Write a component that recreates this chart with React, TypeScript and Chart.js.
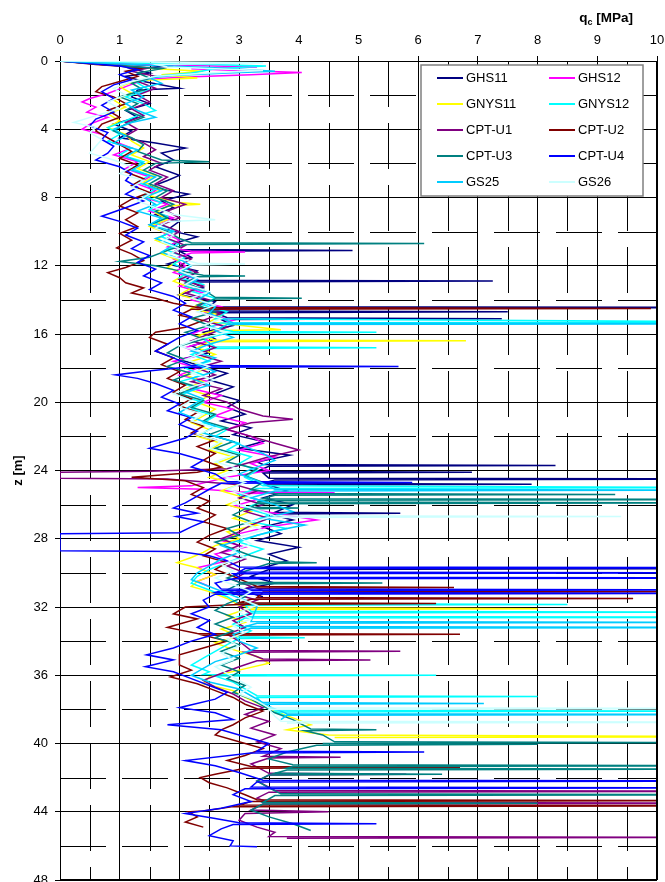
import React, { useEffect, useRef } from 'react';
import { Chart, registerables } from 'chart.js';

Chart.register(...registerables);

// ---- axis ticks ----
const X_TICKS = [0, 1, 2, 3, 4, 5, 6, 7, 8, 9, 10];
const Y_TICKS = [0, 4, 8, 12, 16, 20, 24, 28, 32, 36, 40, 44, 48];
const MINOR_X = [0.5, 1.5, 2.5, 3.5, 4.5, 5.5, 6.5, 7.5, 8.5, 9.5];
const MINOR_Y = [2, 6, 10, 14, 18, 22, 26, 30, 34, 38, 42, 46];

const SERIES_NAMES = ['GHS11', 'GHS12', 'GNYS11', 'GNYS12', 'CPT-U1', 'CPT-U2', 'CPT-U3', 'CPT-U4', 'GS25', 'GS26'];
const SERIES_COLORS = ['#000080', '#FF00FF', '#FFFF00', '#00FFFF', '#800080', '#800000', '#008080', '#0000FF', '#00CCFF', '#CCFFFF'];

// ---- series: [z (m), qc (MPa)] ----
const GHS11 = [[0,0],[0.15,0.6],[0.3,1.9],[0.45,1.2],[0.7,1.5],[0.9,1.1],[1.2,1.4],[1.6,2.0],[1.7,1.3],[2.1,1.2],[2.5,1.5],[2.9,1.1],[3.3,1.3],[3.7,0.9],[4.1,1.2],[4.5,1.0],[4.8,1.6],[5.1,2.1],[5.4,1.7],[5.8,1.9],[6.2,1.6],[6.7,2.0],[7.0,1.8],[7.4,1.5],[7.8,2.15],[8.2,1.7],[8.6,1.9],[9.0,1.6],[9.4,2.0],[9.9,1.8],[10.3,2.3],[10.7,1.9],[11.05,2.0],[11.1,4.9],[11.15,2.0],[11.5,2.2],[11.9,1.8],[12.3,2.3],[12.85,2.1],[12.9,7.25],[12.95,2.2],[13.3,2.4],[13.7,2.0],[14.1,2.6],[14.4,2.5],[14.45,12],[14.5,2.6],[14.65,2.4],[14.7,7.5],[14.75,2.6],[15.05,2.8],[15.1,7.4],[15.15,2.7],[15.5,2.9],[15.9,2.4],[16.3,2.6],[16.7,2.2],[17.1,2.5],[17.5,2.0],[17.9,2.4],[18.3,2.8],[18.7,2.5],[19.1,2.9],[19.5,2.6],[19.9,3.0],[20.3,2.8],[20.7,3.1],[21.1,2.7],[21.5,3.2],[21.9,2.9],[22.3,3.4],[22.7,3.0],[23.1,3.85],[23.5,3.3],[23.65,3.4],[23.7,8.3],[23.75,3.5],[24.05,3.3],[24.1,6.9],[24.15,3.4],[24.45,3.5],[24.5,12],[24.55,3.6],[24.75,3.4],[24.8,7.9],[24.85,3.5],[25.2,3.8],[25.6,3.4],[26.0,3.9],[26.45,3.6],[26.5,5.7],[26.55,3.5],[26.9,3.9],[27.3,3.4],[27.7,3.7],[28.1,3.3],[28.5,4.0],[28.9,3.5],[29.3,3.8],[29.7,3.4],[29.75,12],[29.8,3.5],[30.2,3.2],[30.6,3.6],[31.0,3.0],[31.4,3.4]];

const GHS12 = [[0,0],[0.15,0.8],[0.35,3.3],[0.45,2.2],[0.55,3.0],[0.68,4.05],[0.8,3.2],[0.95,2.0],[1.1,1.4],[1.5,1.1],[1.9,0.8],[2.2,0.5],[2.4,0.37],[2.7,0.6],[3.0,0.45],[3.3,0.8],[3.7,0.5],[4.0,0.37],[4.3,0.7],[4.7,0.9],[5.1,1.2],[5.5,0.9],[5.9,1.3],[6.3,1.1],[6.8,1.5],[7.2,1.3],[7.6,1.6],[8.0,1.4],[8.4,1.8],[8.8,1.5],[9.2,1.9],[9.6,1.6],[10.0,1.7],[10.5,2.0],[10.9,1.8],[11.15,2.2],[11.2,3.1],[11.25,2.2],[11.6,1.9],[12.0,2.1],[12.4,1.9],[12.8,2.3],[13.2,2.0],[13.6,2.4],[14.0,2.2],[14.4,2.7],[14.8,2.4],[15.2,2.9],[15.6,2.5],[16.0,2.2],[16.4,2.5],[16.8,2.1],[17.2,2.4],[17.6,1.9],[18.0,2.3],[18.4,2.0],[18.8,2.5],[19.2,2.2],[19.6,2.7],[20.0,2.4],[20.4,2.9],[20.8,2.6],[21.2,3.1],[21.6,2.8],[22.0,3.2],[22.4,3.4],[22.8,3.0],[23.2,3.6],[23.6,3.2],[24.0,3.5],[24.4,2.8],[24.9,2.2],[25.0,1.3],[25.1,2.4],[25.25,3.0],[25.3,4.6],[25.35,3.0],[25.7,3.3],[26.1,2.9],[26.5,3.6],[26.9,4.3],[27.3,3.5],[27.7,3.0],[28.1,2.7],[28.5,3.1],[28.9,2.6],[29.3,2.8],[29.7,2.3],[30.1,2.6],[30.5,2.3],[30.8,2.5]];

const GNYS11 = [[0,0],[0.25,0.9],[0.45,1.6],[0.6,2.4],[0.8,1.7],[1.0,2.3],[1.15,1.3],[1.5,1.0],[1.9,1.2],[2.3,0.9],[2.7,1.1],[3.1,0.8],[3.5,1.0],[3.9,0.8],[4.3,1.1],[4.7,1.2],[5.1,1.4],[5.5,1.2],[5.9,1.5],[6.3,1.3],[6.7,1.6],[7.1,1.4],[7.5,1.7],[7.9,1.5],[8.3,2.0],[8.4,2.35],[8.5,1.8],[8.9,1.6],[9.3,1.8],[9.7,1.5],[10.1,1.8],[10.5,1.6],[10.9,1.9],[11.3,1.7],[11.7,2.0],[12.1,1.8],[12.5,2.1],[12.9,1.9],[13.3,2.2],[13.7,2.0],[14.1,2.4],[14.5,2.2],[14.9,2.7],[15.3,2.5],[15.75,3.7],[15.8,2.6],[16.1,2.3],[16.35,2.6],[16.4,6.8],[16.45,2.5],[16.8,2.3],[17.2,2.6],[17.6,2.2],[18.0,2.5],[18.4,2.1],[18.8,2.4],[19.2,2.1],[19.6,2.5],[20.0,2.3],[20.4,2.6],[20.8,2.4],[21.2,2.2],[21.6,2.5],[22.0,2.3],[22.4,2.7],[22.8,2.5],[23.2,2.9],[23.6,2.6],[24.0,2.8],[24.4,2.5],[24.8,3.0],[25.2,2.7],[25.6,3.1],[26.0,2.8],[26.4,3.2],[26.8,2.9],[27.2,3.3],[27.6,2.8],[28.0,3.0],[28.4,2.6],[28.8,2.4],[29.1,2.2],[29.4,1.96],[29.7,2.3],[30.1,2.6],[30.5,2.3],[30.8,2.2],[31.1,2.5],[31.5,2.8],[31.9,3.0],[32.05,3.2],[32.1,8.0],[32.15,3.1],[32.5,2.8],[32.9,3.1],[33.3,2.7],[33.7,3.0],[34.1,2.6],[34.5,2.9],[34.9,3.3],[35.3,3.5],[35.7,3.0],[36.1,2.5],[36.5,2.4],[36.9,2.9],[37.3,3.1],[37.7,3.35],[38.1,3.6],[38.5,3.9],[38.9,4.2],[39.2,3.8],[39.5,4.5],[39.6,12],[39.65,4.6]];

const GNYS12 = [[0,0],[0.1,1.0],[0.2,2.5],[0.3,3.45],[0.45,2.6],[0.7,2.2],[0.9,1.6],[1.3,1.3],[1.7,1.5],[2.1,1.1],[2.5,1.4],[2.9,1.6],[3.2,1.3],[3.5,1.1],[3.9,0.8],[4.3,1.0],[4.7,0.8],[5.1,1.2],[5.5,1.0],[5.9,1.4],[6.3,1.2],[6.7,1.5],[7.1,1.3],[7.5,1.6],[7.9,1.4],[8.3,1.7],[8.7,1.5],[9.1,1.8],[9.5,1.6],[9.9,1.9],[10.3,1.7],[10.7,2.0],[11.1,1.8],[11.5,2.1],[11.9,1.9],[12.3,2.2],[12.7,2.0],[13.1,2.4],[13.5,2.2],[13.9,2.6],[14.3,2.4],[14.7,2.8],[15.1,2.6],[15.3,12],[15.35,2.7],[15.6,2.5],[15.85,2.9],[15.9,5.3],[15.95,2.8],[16.3,2.4],[16.75,2.6],[16.8,5.3],[16.85,2.5],[17.2,2.2],[17.6,2.5],[18.0,2.1],[18.4,2.4],[18.8,2.0],[19.2,2.3],[19.6,2.0],[20.0,2.4],[20.4,2.2],[20.8,2.6],[21.2,2.4],[21.6,2.8],[22.0,2.6],[22.4,3.0],[22.8,2.8],[23.2,3.2],[23.6,3.0],[24.0,3.3],[24.4,3.1],[24.9,3.4],[25.0,12],[25.05,3.3],[25.4,3.0],[25.8,3.4],[26.2,3.1],[26.6,3.5],[27.0,3.2],[27.4,3.8],[27.8,3.3],[28.2,3.0],[28.6,3.4],[29.0,3.1],[29.4,2.8],[29.8,2.5],[30.2,2.3],[30.6,2.2],[31.0,2.5],[31.4,2.8],[31.8,3.0],[31.85,8.5],[31.9,3.1],[32.25,3.2],[32.3,12],[32.35,3.2],[32.55,3.0],[32.6,12],[32.65,3.1],[33.0,2.9],[33.4,3.2],[33.75,3.0],[33.8,4.1],[33.85,3.0],[34.2,2.8],[34.6,2.6],[35.0,2.4],[35.4,2.2],[35.8,2.5],[35.95,2.4],[36.0,6.3],[36.05,2.6],[36.4,2.9],[36.8,3.1],[37.2,3.3],[37.25,8.0],[37.3,3.3],[37.7,3.4],[38.05,3.6],[38.1,12],[38.15,3.6],[38.4,3.8]];

const CPT_U1 = [[0,0],[0.2,0.7],[0.4,1.5],[0.6,1.2],[0.9,1.6],[1.2,1.3],[1.6,1.6],[2.0,1.3],[2.4,1.5],[2.8,1.2],[3.2,1.4],[3.6,1.1],[4.0,1.3],[4.4,1.1],[4.8,1.4],[5.2,1.6],[5.6,1.4],[6.0,1.7],[6.4,1.5],[6.8,1.8],[7.2,1.6],[7.6,1.9],[8.0,1.7],[8.4,2.1],[8.8,1.8],[9.2,2.0],[9.6,1.7],[10.0,2.0],[10.4,1.8],[10.8,2.1],[11.2,1.9],[11.6,2.2],[12.0,2.0],[12.4,2.3],[12.8,2.0],[13.2,2.4],[13.6,2.1],[14.0,2.5],[14.4,2.3],[14.8,2.7],[15.2,2.4],[15.6,2.8],[16.0,2.5],[16.4,2.2],[16.8,2.6],[17.2,2.3],[17.6,2.7],[18.0,2.3],[18.4,2.6],[18.8,2.2],[19.2,2.7],[19.6,2.4],[20.0,2.8],[20.4,3.0],[20.8,3.4],[21.0,3.9],[21.2,3.2],[21.6,2.8],[22.0,3.2],[22.4,3.6],[22.8,4.0],[23.2,3.5],[23.6,3.1],[23.9,2.8],[24.05,1.5],[24.1,0],[24.45,0],[24.5,1.8],[24.8,2.9],[25.2,3.3],[25.6,3.0],[26.0,3.4],[26.4,3.1],[26.8,3.5],[27.2,3.2],[27.6,3.0],[28.0,2.7],[28.4,3.0],[28.8,2.7],[29.2,3.1],[29.6,2.8],[30.0,3.1],[30.4,2.9],[30.8,3.2],[31.2,2.9],[31.6,3.3],[32.0,3.0],[32.4,3.2],[32.8,2.9],[33.2,3.1],[33.6,2.8],[34.0,3.0],[34.55,3.2],[34.6,5.7],[34.65,3.1],[35.05,3.4],[35.1,5.2],[35.15,3.3],[35.5,3.0],[35.9,2.7],[36.3,2.4],[36.7,2.6],[37.1,2.9],[37.5,3.1],[37.9,3.4],[38.3,3.1],[38.7,3.5],[39.1,3.2],[39.5,3.6],[39.9,3.3],[40.3,3.7],[40.75,3.4],[40.8,4.7],[40.85,3.5],[41.2,3.2],[41.75,3.5],[41.8,5.8],[41.85,3.5],[42.2,3.3],[42.75,3.6],[42.8,12],[42.85,3.5],[43.2,3.3],[43.45,3.5],[43.5,12],[43.55,3.4],[43.9,3.2],[44.0,4.5],[44.1,3.1],[44.5,3.0],[44.9,3.3],[45.2,3.6],[45.45,3.5],[45.5,12],[45.55,3.8]];

const CPT_U2 = [[0,0],[0.2,0.6],[0.4,1.4],[0.6,1.1],[0.9,1.3],[1.2,1.0],[1.5,0.7],[1.8,0.6],[2.1,0.9],[2.5,1.1],[2.9,0.8],[3.3,1.0],[3.7,0.7],[4.1,0.6],[4.5,0.8],[4.9,1.0],[5.3,1.2],[5.7,1.0],[6.1,1.3],[6.5,1.1],[6.9,1.4],[7.3,1.2],[7.7,1.5],[8.1,1.2],[8.5,1.0],[8.9,1.3],[9.3,1.1],[9.7,1.3],[10.1,1.0],[10.5,1.2],[10.95,0.95],[11.3,1.2],[11.7,1.4],[12.1,1.1],[12.4,0.8],[12.7,1.0],[13.0,1.1],[13.3,1.4],[13.6,1.2],[13.9,1.6],[14.2,1.9],[14.45,2.3],[14.5,9.9],[14.55,2.2],[14.9,2.0],[15.2,2.4],[15.6,2.1],[15.9,1.6],[16.2,1.5],[16.6,1.8],[17.0,1.6],[17.4,1.9],[17.8,1.7],[18.2,2.0],[18.6,1.8],[19.0,2.1],[19.4,1.9],[19.8,2.2],[20.2,2.0],[20.6,2.3],[21.0,2.1],[21.4,2.4],[21.8,2.2],[22.2,2.6],[22.6,2.3],[23.0,2.6],[23.4,2.4],[23.8,2.7],[24.1,2.3],[24.4,1.2],[24.6,2.1],[25.0,2.4],[25.4,2.2],[25.8,2.5],[26.2,2.3],[26.6,2.6],[27.0,2.4],[27.4,2.8],[27.8,2.5],[28.2,2.3],[28.6,2.6],[29.0,2.4],[29.4,2.8],[29.8,2.6],[30.2,2.9],[30.5,3.1],[30.8,3.3],[30.85,6.6],[30.9,3.3],[31.05,3.4],[31.1,12],[31.15,3.4],[31.45,3.3],[31.5,9.6],[31.55,3.2],[31.75,3.0],[31.8,6.3],[31.85,3.0],[32.0,2.1],[32.4,1.9],[32.7,2.3],[33.2,1.8],[33.55,2.3],[33.6,6.7],[33.65,2.4],[34.0,2.8],[34.4,2.4],[34.8,2.0],[35.4,2.0],[35.7,2.2],[36.1,1.85],[36.5,2.3],[36.9,2.6],[37.3,2.9],[37.7,3.1],[38.1,3.4],[38.5,3.1],[38.9,2.9],[39.2,2.7],[39.5,2.6],[39.9,3.0],[40.3,3.4],[40.7,3.1],[41.0,2.8],[41.35,3.2],[41.4,6.7],[41.45,3.1],[41.8,2.6],[42.0,2.35],[42.3,2.5],[42.6,2.8],[43.0,3.1],[43.3,3.3],[43.35,12],[43.4,3.2],[43.6,3.0],[43.65,12],[43.7,2.9],[43.95,2.4],[44.0,2.15],[44.3,2.3],[44.6,2.1],[44.9,2.4]];

const CPT_U3 = [[0,0],[0.25,0.9],[0.45,1.7],[0.7,1.3],[1.0,1.5],[1.3,1.2],[1.7,1.4],[2.1,1.0],[2.5,1.3],[2.9,1.1],[3.3,1.4],[3.7,1.1],[4.1,0.9],[4.5,1.2],[4.9,1.4],[5.3,1.3],[5.8,1.7],[5.9,2.5],[6.0,1.6],[6.4,1.4],[6.8,1.7],[7.2,1.5],[7.6,1.8],[8.0,1.6],[8.4,1.9],[8.8,1.6],[9.2,1.8],[9.6,1.5],[10.0,1.8],[10.4,2.0],[10.65,2.2],[10.7,6.1],[10.75,2.1],[11.1,1.8],[11.5,1.5],[11.75,1.0],[12.0,1.6],[12.3,2.0],[12.55,2.4],[12.6,3.1],[12.65,2.3],[13.0,2.1],[13.4,2.4],[13.85,2.6],[13.9,4.05],[13.95,2.6],[14.3,2.3],[14.7,2.6],[15.1,2.2],[15.5,2.5],[15.9,2.1],[16.3,2.4],[16.7,2.0],[17.1,1.8],[17.5,2.1],[17.9,1.8],[18.3,2.2],[18.7,1.9],[19.1,2.3],[19.5,2.0],[19.9,2.4],[20.3,2.2],[20.7,2.6],[21.1,2.4],[21.5,2.8],[21.9,2.5],[22.3,2.9],[22.7,2.6],[23.1,3.0],[23.5,2.8],[23.9,3.3],[24.3,3.1],[24.7,3.4],[25.1,3.2],[25.35,3.6],[25.4,9.3],[25.45,3.6],[25.65,3.4],[25.7,12],[25.75,3.5],[25.85,3.3],[25.9,12],[25.95,3.3],[26.15,3.2],[26.2,4.0],[26.25,3.1],[26.6,2.9],[27.0,3.2],[27.4,2.8],[27.8,3.0],[28.2,2.6],[28.6,2.9],[29.0,3.2],[29.35,3.6],[29.4,4.3],[29.45,3.5],[29.9,3.1],[30.3,2.8],[30.55,3.0],[30.6,5.4],[30.65,3.0],[31.0,2.8],[31.4,3.1],[31.8,2.8],[32.2,2.6],[32.6,2.9],[33.0,2.6],[33.4,2.9],[33.8,2.6],[34.2,3.0],[34.6,2.7],[35.0,3.0],[35.4,2.7],[35.8,3.0],[36.2,2.8],[36.6,3.1],[37.0,2.9],[37.4,3.2],[37.8,3.4],[38.2,3.6],[38.6,3.9],[39.15,4.2],[39.2,5.3],[39.25,4.1],[39.5,4.4],[39.9,4.6],[39.95,12],[40.0,4.4],[40.05,8.0],[40.1,4.3],[40.5,3.8],[40.9,3.5],[41.25,3.9],[41.3,12],[41.35,3.9],[41.45,3.8],[41.5,12],[41.55,3.8],[41.75,3.6],[41.8,6.4],[41.85,3.5],[42.2,3.3],[42.6,3.5],[42.95,3.7],[43.0,12],[43.05,3.6],[43.45,3.4],[43.5,8.0],[43.55,3.4],[43.9,3.2],[44.3,3.5],[44.7,3.9],[45.1,4.2]];

const CPT_U4 = [[0,0],[0.15,0.5],[0.3,1.0],[0.5,1.3],[0.8,1.0],[1.1,1.2],[1.4,0.9],[1.8,0.7],[2.2,0.9],[2.6,0.7],[3.0,0.9],[3.4,0.6],[3.8,0.5],[4.2,0.8],[4.6,0.7],[5.0,0.9],[5.4,0.8],[5.8,0.6],[6.2,1.0],[6.6,1.2],[7.0,1.1],[7.4,1.3],[7.8,1.1],[8.2,1.4],[8.6,1.1],[9.1,0.7],[9.4,1.0],[9.8,1.3],[10.2,1.1],[10.6,1.4],[11.0,1.2],[11.4,1.5],[11.8,1.3],[12.2,1.6],[12.6,1.4],[13.0,1.7],[13.4,1.5],[13.8,1.9],[14.2,2.1],[14.6,1.9],[15.0,2.2],[15.4,2.0],[15.8,2.3],[16.2,2.0],[16.6,1.8],[17.0,1.6],[17.4,1.9],[17.85,2.2],[17.9,5.67],[17.95,2.1],[18.2,1.4],[18.4,0.93],[18.6,1.3],[18.9,1.6],[19.3,1.9],[19.7,1.7],[20.1,2.0],[20.5,1.8],[20.9,2.2],[21.3,2.0],[21.7,2.3],[22.1,2.1],[22.7,1.5],[23.0,2.0],[23.4,2.4],[23.8,2.2],[24.2,2.6],[24.65,2.8],[24.7,5.9],[24.75,2.7],[25.1,2.5],[25.5,2.3],[25.9,2.1],[26.2,1.9],[26.5,2.3],[26.7,1.95],[27.0,2.4],[27.3,2.2],[27.65,2.0],[27.7,0],[28.7,0],[28.75,2.0],[29.0,2.5],[29.3,2.8],[29.65,3.0],[29.7,12],[29.75,3.1],[29.95,3.0],[30.0,12],[30.05,2.9],[30.25,3.0],[30.3,12],[30.35,2.9],[30.6,2.6],[30.95,2.7],[31.0,12],[31.05,2.7],[31.15,2.6],[31.2,12],[31.25,2.6],[31.6,2.4],[32.0,2.5],[32.4,2.2],[32.8,2.5],[33.2,2.3],[33.6,2.6],[34.0,2.2],[34.4,1.9],[34.8,1.45],[35.1,1.9],[35.5,1.43],[35.8,1.9],[36.2,2.2],[36.6,2.5],[37.0,2.8],[37.4,2.6],[37.9,2.0],[38.2,2.6],[38.6,2.9],[38.9,1.8],[39.2,2.7],[39.6,3.1],[40.0,3.5],[40.45,3.3],[40.5,6.1],[40.55,3.2],[41.0,2.1],[41.3,2.6],[41.7,3.0],[42.15,3.4],[42.2,12],[42.25,3.3],[42.55,3.2],[42.6,12],[42.65,3.1],[43.0,2.9],[43.4,3.2],[43.8,2.7],[44.1,2.1],[44.4,2.6],[44.65,3.0],[44.7,5.3],[44.75,2.9],[45.0,2.7],[45.4,2.5],[45.7,2.9],[46.0,2.85],[46.05,3.3]];

const GS25 = [[0,0],[0.2,1.2],[0.4,2.6],[0.6,3.6],[0.7,2.8],[0.85,1.9],[1.0,1.5],[1.3,1.7],[1.7,1.2],[2.1,1.4],[2.5,1.1],[2.9,1.3],[3.3,1.6],[3.6,1.2],[4.0,0.9],[4.4,1.1],[4.8,0.9],[5.2,1.3],[5.6,1.1],[6.0,1.4],[6.4,1.2],[6.8,1.6],[7.2,1.4],[7.6,1.7],[8.0,1.4],[8.4,1.6],[8.8,1.3],[9.2,1.7],[9.6,1.5],[10.0,1.9],[10.4,1.6],[10.8,1.9],[11.2,1.7],[11.6,2.0],[12.0,2.2],[12.4,2.0],[12.8,2.3],[13.2,2.1],[13.6,2.5],[14.0,2.3],[14.4,2.6],[14.8,2.5],[15.35,2.9],[15.4,12],[15.45,2.8],[15.8,2.6],[16.2,2.9],[16.6,2.5],[17.0,2.2],[17.4,2.6],[17.8,2.3],[18.2,2.6],[18.6,2.2],[19.0,2.5],[19.4,2.1],[19.8,2.4],[20.2,2.2],[20.6,2.0],[21.0,2.3],[21.4,2.6],[21.8,2.4],[22.2,2.8],[22.6,3.1],[23.0,3.4],[23.4,3.6],[23.8,3.3],[24.2,3.0],[24.6,3.3],[25.1,3.6],[25.15,12],[25.2,3.6],[25.6,3.2],[26.0,3.6],[26.4,3.9],[26.8,3.4],[27.2,4.1],[27.6,3.5],[28.0,3.1],[28.4,2.7],[28.8,3.0],[29.2,2.7],[29.6,2.5],[30.0,2.3],[30.4,2.2],[30.8,2.5],[31.2,2.8],[31.6,3.1],[32.0,3.3],[32.85,3.2],[32.9,12],[32.95,3.3],[33.15,3.1],[33.2,12],[33.25,3.2],[33.6,2.9],[34.0,3.0],[34.4,3.3],[34.8,3.0],[35.2,2.6],[35.6,2.4],[36.0,2.2],[36.4,2.5],[36.8,3.0],[37.2,3.2],[37.6,3.4],[37.65,7.1],[37.7,3.4],[38.1,3.7],[38.25,3.8],[38.3,12],[38.35,3.8],[38.6,3.7]];

const GS26 = [[0,0],[0.05,1.5],[0.1,3.4],[0.2,1.6],[0.35,1.8],[0.55,3.4],[0.7,2.5],[0.9,1.6],[1.2,1.2],[1.6,0.9],[2.0,1.1],[2.4,0.8],[2.8,1.0],[3.2,0.6],[3.6,0.23],[3.9,0.6],[4.2,0.5],[4.6,0.7],[5.0,0.6],[5.4,0.5],[5.8,0.9],[6.2,1.2],[6.6,1.0],[7.0,1.4],[7.4,1.2],[7.8,1.5],[8.2,1.3],[8.6,1.6],[9.0,1.9],[9.3,2.6],[9.4,1.8],[9.8,1.6],[10.2,1.9],[10.6,1.7],[11.0,2.0],[11.4,1.8],[11.85,2.3],[11.9,3.1],[11.95,2.2],[12.3,2.0],[12.7,2.3],[13.1,2.1],[13.5,2.5],[13.9,2.2],[14.3,2.6],[14.7,2.3],[15.1,2.7],[15.5,2.4],[15.9,2.8],[16.3,2.3],[16.7,2.0],[17.1,2.4],[17.5,2.1],[17.9,2.5],[18.3,2.2],[18.7,2.6],[19.1,2.2],[19.5,1.9],[19.9,2.2],[20.3,2.0],[20.7,2.4],[21.1,2.2],[21.5,2.6],[21.9,2.3],[22.3,2.7],[22.7,2.5],[23.1,2.9],[23.5,2.6],[23.9,3.0],[24.3,2.7],[24.7,3.1],[25.1,2.8],[25.5,3.2],[25.9,2.9],[26.3,3.3],[26.65,3.6],[26.7,9.4],[26.75,3.5],[27.1,3.1],[27.5,3.4],[27.9,3.0],[28.3,3.2],[28.7,2.9],[29.1,3.1],[29.5,2.7],[29.9,2.9],[30.3,2.6],[30.7,2.9],[31.1,3.2],[31.5,3.0],[31.9,3.3],[32.3,3.0],[32.7,3.2],[33.1,2.9],[33.5,3.1],[33.9,2.8],[34.3,3.0],[34.7,2.7],[35.1,2.9],[35.5,2.6],[35.9,2.8],[36.3,3.0],[36.7,3.2],[37.1,3.0],[37.5,3.3],[37.9,3.5],[37.95,12],[38.0,3.5],[38.4,3.6],[38.7,3.7],[38.75,12],[38.8,3.8]];

const SERIES_DATA = [GHS11, GHS12, GNYS11, GNYS12, CPT_U1, CPT_U2, CPT_U3, CPT_U4, GS25, GS26];

const FONT = "'Liberation Sans', Arial, Helvetica, sans-serif";

const minorGridPlugin = {
  id: 'minorGrid',
  beforeDatasetsDraw(chart: any) {
    const { ctx, chartArea: a, scales } = chart;
    ctx.save();
    ctx.strokeStyle = '#000';
    ctx.lineWidth = 1;
    ctx.setLineDash([46, 16]);
    for (const q of MINOR_X) {
      const px = Math.round(scales.x.getPixelForValue(q)) + 0.5;
      ctx.beginPath();
      ctx.moveTo(px, a.top);
      ctx.lineTo(px, a.bottom);
      ctx.stroke();
    }
    for (const z of MINOR_Y) {
      const py = Math.round(scales.y.getPixelForValue(z)) + 0.5;
      ctx.beginPath();
      ctx.moveTo(a.left, py);
      ctx.lineTo(a.right, py);
      ctx.stroke();
    }
    ctx.restore();
  },
};

const overlayPlugin = {
  id: 'overlay',
  afterDraw(chart: any) {
    const { ctx, chartArea: a } = chart;
    ctx.save();
    // frame right & bottom
    ctx.strokeStyle = '#000';
    ctx.lineWidth = 2;
    ctx.beginPath();
    ctx.moveTo(a.right, a.top);
    ctx.lineTo(a.right, a.bottom);
    ctx.stroke();
    ctx.lineWidth = 1;
    ctx.beginPath();
    ctx.moveTo(a.left, a.bottom - 0.5);
    ctx.lineTo(a.right, a.bottom - 0.5);
    ctx.stroke();

    // legend box
    const bx = 421, by = 65, bw = 222, bh = 131;
    ctx.fillStyle = '#fff';
    ctx.fillRect(bx, by, bw, bh);
    ctx.strokeStyle = '#808080';
    ctx.lineWidth = 1.5;
    ctx.strokeRect(bx, by, bw, bh);
    ctx.font = `13px ${FONT}`;
    ctx.textBaseline = 'middle';
    ctx.textAlign = 'left';
    SERIES_NAMES.forEach((name, i) => {
      const col = i % 2;
      const row = Math.floor(i / 2);
      const y = 78 + row * 26;
      const lx = col === 0 ? 437 : 549;
      ctx.strokeStyle = SERIES_COLORS[i];
      ctx.lineWidth = 2;
      ctx.beginPath();
      ctx.moveTo(lx, y);
      ctx.lineTo(lx + 26, y);
      ctx.stroke();
      ctx.fillStyle = '#000';
      ctx.fillText(name, lx + 29, y + 0.5);
    });

    // x title: q_c [MPa]
    ctx.fillStyle = '#000';
    ctx.textBaseline = 'alphabetic';
    ctx.textAlign = 'left';
    const big = `bold 13.5px ${FONT}`;
    const small = `bold 9px ${FONT}`;
    ctx.font = big;
    const wq = ctx.measureText('q').width;
    const rest = ' [MPa]';
    const wr = ctx.measureText(rest).width;
    ctx.font = small;
    const wc = ctx.measureText('c').width;
    const right = 633;
    const x0 = right - (wq + wc + wr);
    const base = 22;
    ctx.font = big;
    ctx.fillText('q', x0, base);
    ctx.font = small;
    ctx.fillText('c', x0 + wq, base + 3);
    ctx.font = big;
    ctx.fillText(rest, x0 + wq + wc, base);

    // y title
    ctx.translate(18, (a.top + a.bottom) / 2);
    ctx.rotate(-Math.PI / 2);
    ctx.textAlign = 'center';
    ctx.textBaseline = 'middle';
    ctx.font = `bold 13px ${FONT}`;
    ctx.fillText('z [m]', 0, 0);
    ctx.restore();
  },
};

export default function App() {
  const canvasRef = useRef<HTMLCanvasElement | null>(null);

  useEffect(() => {
    document.body.style.margin = '0';
    document.body.style.overflow = 'hidden';
    document.documentElement.style.overflow = 'hidden';
    const canvas = canvasRef.current;
    if (!canvas) return;

    const datasets = SERIES_NAMES.map((name, i) => ({
      label: name,
      data: SERIES_DATA[i].map((p) => ({ x: p[1], y: p[0] })),
      borderColor: SERIES_COLORS[i],
      backgroundColor: SERIES_COLORS[i],
      borderWidth: 1.5,
      showLine: true,
      pointRadius: 0,
      pointHoverRadius: 0,
      tension: 0,
      fill: false,
      order: SERIES_NAMES.length - i,
    }));

    const chart = new Chart(canvas, {
      type: 'scatter',
      data: { datasets },
      plugins: [minorGridPlugin, overlayPlugin],
      options: {
        responsive: false,
        animation: false,
        devicePixelRatio: 1,
        events: [],
        layout: { padding: { top: 0, left: 0, right: 8, bottom: 2 } },
        plugins: {
          legend: { display: false },
          tooltip: { enabled: false },
          title: { display: false },
        },
        scales: {
          x: {
            type: 'linear',
            position: 'top',
            min: 0,
            max: 10,
            afterBuildTicks: (s: any) => {
              s.ticks = X_TICKS.map((v) => ({ value: v }));
            },
            ticks: {
              color: '#000',
              padding: 8,
              font: { family: FONT, size: 13 },
              maxRotation: 0,
              callback: (v: any) => String(v),
            },
            grid: { color: '#000', lineWidth: 1, tickLength: 5, tickColor: '#000' },
            border: { display: true, color: '#000', width: 1 },
            afterFit: (s: any) => {
              s.height = 61;
              s.paddingLeft = 0;
              s.paddingRight = 0;
            },
          },
          y: {
            type: 'linear',
            reverse: true,
            min: 0,
            max: 48,
            afterBuildTicks: (s: any) => {
              s.ticks = Y_TICKS.map((v) => ({ value: v }));
            },
            ticks: {
              color: '#000',
              padding: 7,
              font: { family: FONT, size: 13 },
              callback: (v: any) => String(v),
            },
            grid: { color: '#000', lineWidth: 1, tickLength: 5, tickColor: '#000' },
            border: { display: true, color: '#000', width: 1 },
            afterFit: (s: any) => {
              s.width = 60;
              s.paddingTop = 0;
              s.paddingBottom = 0;
            },
          },
        },
      } as any,
    });

    return () => {
      chart.destroy();
    };
  }, []);

  return (
    <div style={{ width: 665, height: 882 }}>
      <canvas ref={canvasRef} width={665} height={882} style={{ display: 'block' }} />
    </div>
  );
}
